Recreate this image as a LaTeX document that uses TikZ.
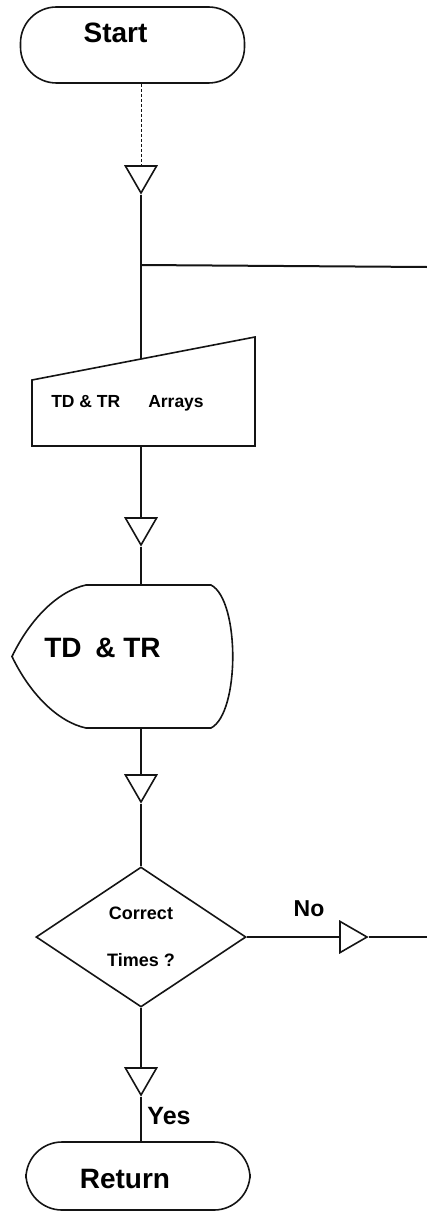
\documentclass[tikz,border=0pt]{standalone}
\usepackage{fontspec}
\setmainfont{Liberation Sans}
\usepackage{tikz}
\usetikzlibrary{shapes.geometric, calc}
\definecolor{myink}{RGB}{20,20,20}
\tikzset{
  terminal/.style={rectangle, draw=myink, rounded corners=36pt,
    minimum width=224pt, inner sep=0pt, line width=1.6pt},
  ghost/.style={rectangle, inner sep=0pt},
  decision/.style={diamond, draw=myink, shape aspect=1.5,
    minimum width=210pt, minimum height=140pt, inner sep=0pt,
    align=center, font=\bfseries\fontsize{18}{21}\selectfont, line width=1.6pt},
  merge/.style={regular polygon, regular polygon sides=3, draw=myink,
    minimum size=36pt, inner sep=0pt, line width=1.6pt},
  outline/.style={draw=myink, line width=1.6pt},
  line/.style={line width=2pt, color=myink},
  bigtext/.style={font=\bfseries\fontsize{28}{32}\selectfont},
  midtext/.style={font=\bfseries\fontsize{23}{26}\selectfont},
  smalltext/.style={font=\bfseries\fontsize{17.5}{20}\selectfont}
}

\begin{document}
\begin{tikzpicture}[x=1pt, y=-1pt]
  \useasboundingbox (0,0) rectangle (427,1212);

  % Terminals
  \node[terminal, minimum height=76pt,
    label={[bigtext, xshift=-17pt, yshift=12pt]center:Start}] (start) at (132.5,45) {};
  \node[terminal, minimum height=68pt,
    label={[bigtext, xshift=-13pt, yshift=-3pt]center:Return}] (return) at (138,1176) {};

  % Merge triangles
  \node[merge, shape border rotate=180] (tri1) at (141,175) {};
  \node[merge, shape border rotate=180] (tri2) at (141,527) {};
  \node[merge, shape border rotate=180] (tri3) at (141,784) {};
  \node[merge, shape border rotate=180] (tri4) at (141,1077) {};
  \node[merge, shape border rotate=-90] (trino) at (349,937) {};

  % Manual input: arrays
  \node[ghost, minimum width=223pt, minimum height=109pt,
    label={[smalltext, xshift=-16pt, yshift=-12pt]center:TD \& TR\hspace{28pt}Arrays}] (arrays) at (143.5,391.5) {};
  \draw[outline] (32,380) -- (255,337) -- (255,446) -- (32,446) -- cycle;
  \coordinate (arrtop) at (141,359);

  % Display
  \node[ghost, minimum width=221pt, minimum height=143pt,
    label={[bigtext, xshift=-20pt, yshift=9pt]center:TD\hspace{6pt} \& TR}] (disp) at (122.5,656.5) {};
  \draw[outline] (86,585) -- (211,585)
    .. controls (240,600) and (240,713) .. (211,728) -- (86,728)
    .. controls (58,722) and (30,694) .. (12,656.5)
    .. controls (30,619) and (58,591) .. cycle;

  % Decision
  \node[decision] (cond) at (141,937) {Correct\\[26pt]Times ?};

  % Loop-back line and junction
  \coordinate (join) at (141,265);
  \coordinate (loopin) at (427,267);
  \coordinate (noout) at (427,937);

  % Connectors
  \draw[line, line width=0.8pt, densely dashed] (tri1 |- start.south) -- (tri1);
  \draw[line] (tri1) -- (join) -- (arrtop);
  \draw[line] (loopin) -- (join);
  \draw[line] (tri2 |- arrays.south) -- (tri2);
  \draw[line] (tri2) -- (tri2 |- disp.north);
  \draw[line] (tri3 |- disp.south) -- (tri3);
  \draw[line] (tri3) -- (cond);
  \draw[line] (cond) -- (tri4);
  \draw[line] (tri4) -- (tri4 |- return.north);
  \draw[line] (cond) -- (trino);
  \draw[line] (trino) -- (noout);

  % Branch labels
  \node[midtext] (lblno) at (309,909) {No};
  \node[midtext, font=\bfseries\fontsize{25}{28}\selectfont] (lblyes) at (169,1116) {Yes};
\end{tikzpicture}
\end{document}
